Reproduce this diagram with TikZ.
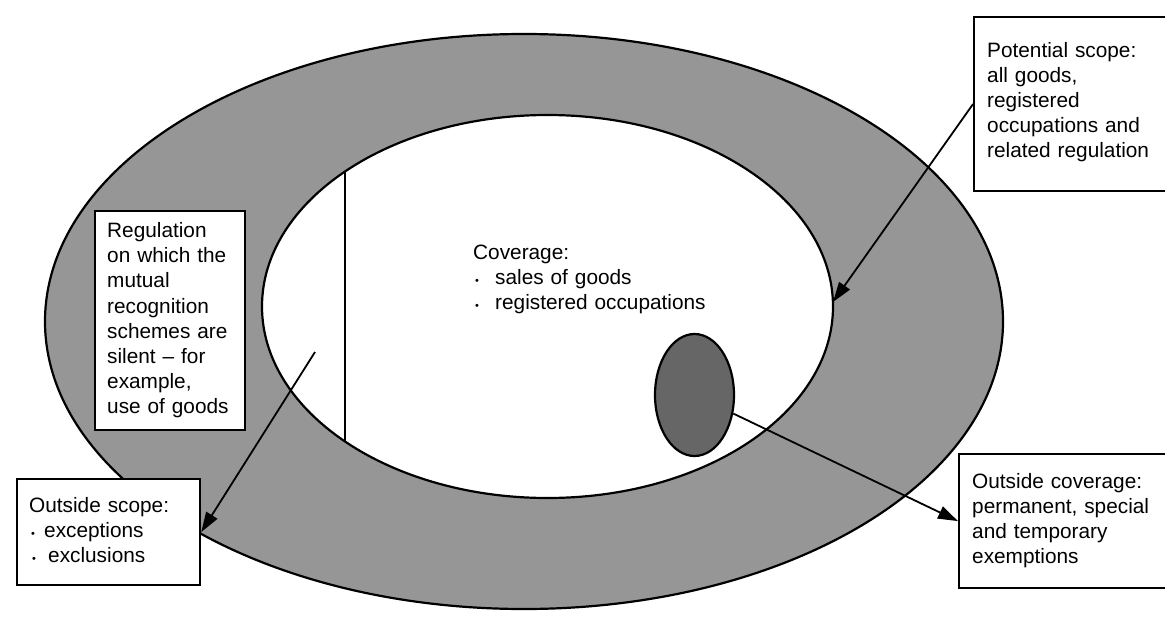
\documentclass[tikz,border=0pt]{standalone}
\usepackage{fontspec}
\setmainfont{Liberation Sans}
\usetikzlibrary{shapes.geometric,arrows.meta}
\definecolor{ringgray}{RGB}{150,150,150}
\definecolor{smallgray}{RGB}{102,102,102}
\newcommand{\bul}{{\fontsize{11}{11}\selectfont •}}
\tikzset{
  boxst/.style={draw, fill=white, line width=2.2pt, inner sep=0pt, anchor=north west},
  txt/.style={anchor=base west, inner sep=0pt, text width=260pt, align=left,
              font=\fontsize{20.8}{25}\selectfont},
  conn/.style={line width=1.8pt, -{Triangle[length=20pt,width=13pt]}},
  ell/.style={ellipse, draw, line width=2.2pt, inner sep=0pt}
}
\begin{document}
\begin{tikzpicture}[x=1pt,y=-1pt]
\useasboundingbox (0,0) rectangle (1165,621);
% rings
\node[ell, fill=ringgray, minimum width=958pt, minimum height=575pt] (outer) at (524,321.5) {};
\node[ell, fill=white, minimum width=571pt, minimum height=383pt] (inner) at (547.5,306.5) {};
\begin{scope}
  \clip (547.5,306.5) ellipse [x radius=285.5pt, y radius=191.5pt];
  \draw[line width=2pt] (345,0) -- (345,621);
\end{scope}
\node[ell, fill=smallgray, minimum width=79pt, minimum height=122pt] (small) at (694.5,395) {};
% boxes
\node[boxst, minimum width=200pt, minimum height=174pt] (ps) at (973,16) {};
\node[boxst, minimum width=150pt, minimum height=219pt] (reg) at (94,210) {};
\node[boxst, minimum width=183pt, minimum height=106pt] (os) at (16,478) {};
\node[boxst, minimum width=215pt, minimum height=134pt] (oc) at (958,453) {};
% connectors
\coordinate (tip1) at (833,302);
\coordinate (src2) at (315,352);
\draw[conn] (ps.west) -- (tip1);
\draw[conn] (src2) -- (os.east);
\draw[conn] (small) -- (oc.west);
% texts
\node[txt] (pstext) at (987,57.5) {Potential scope:\\all goods,\\registered\\occupations and\\related regulation};
\node[txt, font=\fontsize{20.8}{25.2}\selectfont] (regtext) at (107,237.5) {Regulation\\on which the\\mutual\\recognition\\schemes are\\silent – for\\example,\\use of goods};
\node[txt] (covtext) at (473,259.3) {Coverage:\\\hspace*{2pt}\makebox[20pt][l]{\bul}sales of goods\\\hspace*{2pt}\makebox[20pt][l]{\bul}registered occupations};
\node[txt] (ostext) at (29,512) {Outside scope:\\\hspace*{2pt}\makebox[13pt][l]{\bul}exceptions\\\hspace*{3pt}\makebox[16pt][l]{\bul}exclusions};
\node[txt] (octext) at (972,488.3) {Outside coverage:\\permanent, special\\and temporary\\exemptions};
\end{tikzpicture}
\end{document}
